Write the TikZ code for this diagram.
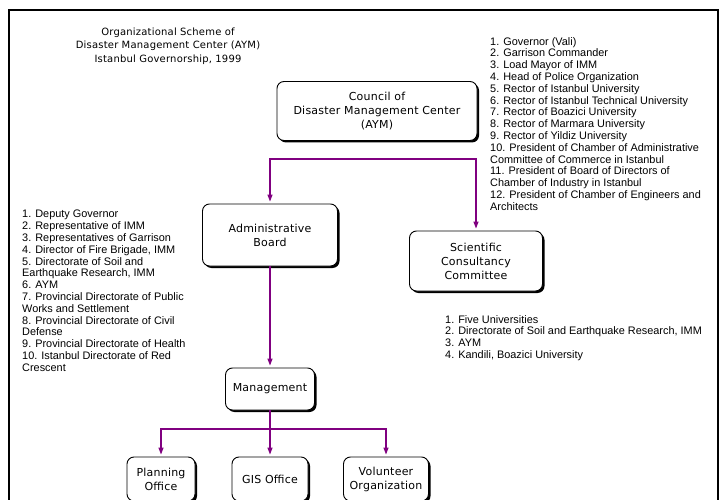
\documentclass[tikz,border=0pt]{standalone}
\usepackage{fontspec}
\setmainfont{Liberation Sans}
\newfontfamily\boxfont{DejaVu Sans}[LetterSpace=2]
\usetikzlibrary{shadows,arrows.meta}
\definecolor{orgpurple}{RGB}{128,0,128}
\begin{document}
\begin{tikzpicture}[x=1pt,y=-1pt,
  orgbox/.style={draw=black,line width=0.9pt,rounded corners=7pt,fill=white,align=center,
    font=\boxfont\fontsize{11}{14}\selectfont,inner sep=0pt,
    drop shadow={shadow xshift=2pt,shadow yshift=-2pt,fill=black,opacity=1}},
  link/.style={draw=orgpurple,line width=1.2pt,shorten >=2pt,-{Triangle[width=5pt,length=7pt]}},
  plainlink/.style={draw=orgpurple,line width=1.2pt},
  listtext/.style={anchor=north west,align=left,inner sep=0pt,font=\fontsize{10.9}{11.8}\selectfont},
  titletext/.style={align=center,inner sep=0pt,font=\boxfont\fontsize{10}{13.5}\selectfont}]
\useasboundingbox (0,0) rectangle (726,500);
\clip (0,0) rectangle (726,500);
\fill[white] (0,0) rectangle (726,500);
\draw[line width=2pt] (9,10) rectangle (718,520);

\node[titletext] (title) at (168,46) {Organizational Scheme of\\Disaster Management Center (AYM)\\Istanbul Governorship, 1999};

\node[orgbox,minimum width=200pt,minimum height=59pt] (council) at (377,111) {Council of\\Disaster Management Center\\(AYM)};
\node[orgbox,minimum width=135pt,minimum height=62pt] (admin) at (270,235) {Administrative\\Board};
\node[orgbox,minimum width=133pt,minimum height=60pt] (sci) at (476,261) {Scientific\\Consultancy\\Committee};
\node[orgbox,minimum width=89pt,minimum height=42pt] (mgmt) at (270,389) {Management};
\node[orgbox,minimum width=68pt,minimum height=44pt] (plan) at (161,479) {Planning\\Office};
\node[orgbox,minimum width=76pt,minimum height=44pt] (gis) at (270,479) {GIS Office};
\node[orgbox,minimum width=85pt,minimum height=44pt] (vol) at (386,479) {Volunteer\\Organization};

\coordinate (split1) at (377,159);
\coordinate (split2) at (270,429);
\draw[link] (split1) -| (admin.north);
\draw[link] (split1) -| (sci.north);
\draw[link] (admin) -- (mgmt);
\draw[plainlink] (mgmt.south) -- (split2);
\draw[link] (split2) -| (plan.north);
\draw[link] (split2) -- (gis.north);
\draw[link] (split2) -| (vol.north);

\node[listtext] (councillist) at (490,37) {1. Governor (Vali)\\2. Garrison Commander\\3. Load Mayor of IMM\\4. Head of Police Organization\\5. Rector of Istanbul University\\6. Rector of Istanbul Technical University\\7. Rector of Boazici University\\8. Rector of Marmara University\\9. Rector of Yildiz University\\10. President of Chamber of Administrative\\Committee of Commerce in Istanbul\\11. President of Board of Directors of\\Chamber of Industry in Istanbul\\12. President of Chamber of Engineers and\\Architects};
\node[listtext] (adminlist) at (22,210) {1. Deputy Governor\\2. Representative of IMM\\3. Representatives of Garrison\\4. Director of Fire Brigade, IMM\\5. Directorate of Soil and\\Earthquake Research, IMM\\6. AYM\\7. Provincial Directorate of Public\\Works and Settlement\\8. Provincial Directorate of Civil\\Defense\\9. Provincial Directorate of Health\\10. Istanbul Directorate of Red\\Crescent};
\node[listtext] (scilist) at (445,315) {1. Five Universities\\2. Directorate of Soil and Earthquake Research, IMM\\3. AYM\\4. Kandili, Boazici University};
\end{tikzpicture}
\end{document}
